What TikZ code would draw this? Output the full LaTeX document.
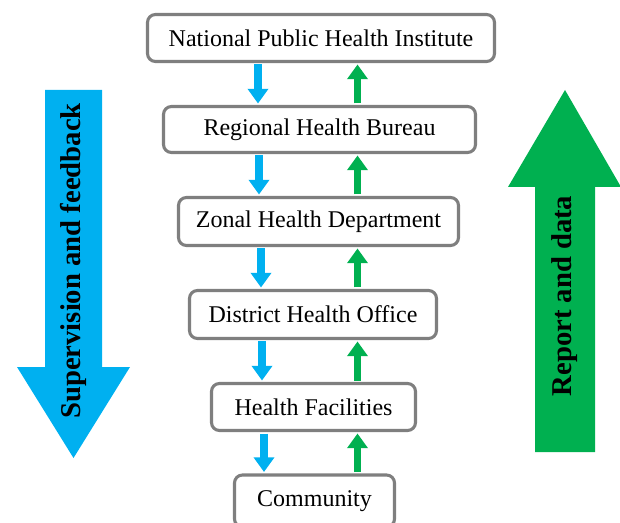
\documentclass[tikz,border=0pt]{standalone}
\usepackage{fontspec}
\setmainfont{Liberation Serif}
\usetikzlibrary{arrows.meta}
\definecolor{supblue}{HTML}{00B0F0}
\definecolor{repgreen}{HTML}{00B050}
\definecolor{boxgray}{HTML}{7F7F7F}
\begin{document}
\begin{tikzpicture}[x=0.75pt,y=-0.75pt,
  level/.style={draw=boxgray,line width=2.3pt,rounded corners=6pt,fill=white,
    font=\fontsize{18}{21}\selectfont,inner sep=0pt},
  downflow/.style={supblue,line width=5.4pt,-{Triangle[width=15pt,length=11pt]}},
  upflow/.style={repgreen,line width=5.8pt,-{Triangle[width=15pt,length=11pt]}},
  bigtext/.style={font=\fontsize{21.5}{24}\selectfont\bfseries,rotate=90}]
\useasboundingbox (0,0) rectangle (620,523);

% big side arrows
\fill[supblue] (45,90) -- (102,90) -- (102,367) -- (130,367) -- (73.5,458)
  -- (17,367) -- (45,367) -- cycle;
\node[bigtext] (suptext) at (73.5,261) {Supervision and feedback};
\fill[repgreen] (535,452) -- (595,452) -- (595,187) -- (621,187) -- (565,90)
  -- (508,187) -- (535,187) -- cycle;
\node[bigtext] (reptext) at (565,296) {Report and data};

% arrow columns
\coordinate (d1) at (258,0);
\coordinate (d2) at (259,0);
\coordinate (d3) at (261,0);
\coordinate (d4) at (262,0);
\coordinate (d5) at (264,0);
\coordinate (u1) at (357.5,0);

% hierarchy levels (sizes in pixels, converted to pt)
\node[level,minimum width=0.75*347pt,minimum height=0.75*47pt] (n1) at (321,38) {National Public Health Institute};
\node[level,minimum width=0.75*312pt,minimum height=0.75*46pt] (n2) at (319.5,129.5) {Regional Health Bureau};
\node[level,minimum width=0.75*280pt,minimum height=0.75*48pt] (n3) at (318.5,221.5) {Zonal Health Department};
\node[level,minimum width=0.75*247pt,minimum height=0.75*48pt] (n4) at (313,314.5) {District Health Office};
\node[level,minimum width=0.75*204pt,minimum height=0.75*47pt] (n5) at (313.5,407) {Health Facilities};
\node[level,minimum width=0.75*160pt,minimum height=0.75*52pt] (n6) at (314.5,501) {Community};

% supervision flows down, reports flow up
\foreach \a/\b/\c in {n1/n2/d1,n2/n3/d2,n3/n4/d3,n4/n5/d4,n5/n6/d5}{
  \draw[downflow] ([yshift=-1.1pt]\a.south -| \c) -- ([yshift=1.1pt]\b.north -| \c);
  \draw[upflow] ([yshift=1.1pt]\b.north -| u1) -- ([yshift=-1.1pt]\a.south -| u1);
}
\end{tikzpicture}
\end{document}
